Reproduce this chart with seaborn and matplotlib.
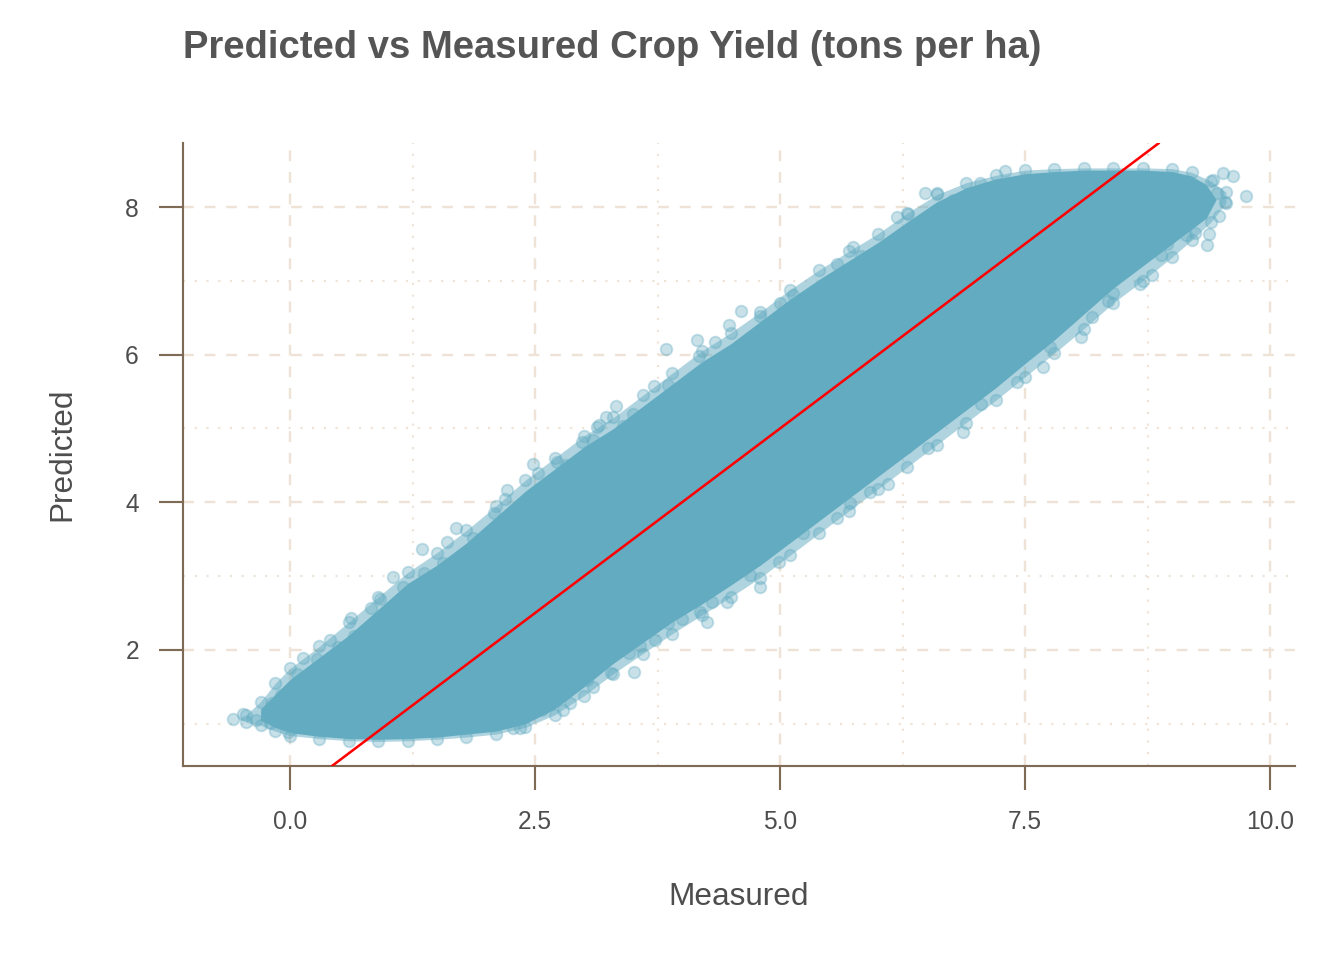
import numpy as np
import pandas as pd
import matplotlib
matplotlib.use("Agg")
import matplotlib.pyplot as plt
import seaborn as sns

# ---- data ----
# solid core of the cloud: envelope (x, lower, upper)
core_x = [-0.3, -0.15, 0.0, 0.3, 0.6, 0.9, 1.2, 1.5, 1.8, 2.1, 2.4, 2.7, 3.0, 3.3, 3.6,
          3.9, 4.2, 4.5, 4.8, 5.1, 5.4, 5.7, 6.0, 6.3, 6.6, 6.9, 7.2, 7.5, 7.8, 8.1,
          8.4, 8.7, 9.0, 9.2, 9.35, 9.45]
core_upper = [1.2, 1.4, 1.6, 1.9, 2.2, 2.55, 2.9, 3.15, 3.45, 3.8, 4.15, 4.45, 4.75,
              5.0, 5.3, 5.6, 5.9, 6.15, 6.45, 6.75, 7.02, 7.27, 7.52, 7.8, 8.07, 8.26,
              8.38, 8.45, 8.48, 8.5, 8.5, 8.5, 8.48, 8.42, 8.3, 8.1]
core_lower = [1.05, 0.95, 0.88, 0.83, 0.8, 0.79, 0.8, 0.82, 0.86, 0.9, 1.0, 1.2, 1.5,
              1.82, 2.1, 2.38, 2.62, 2.88, 3.15, 3.45, 3.75, 4.05, 4.35, 4.65, 4.95,
              5.25, 5.55, 5.88, 6.2, 6.55, 6.9, 7.2, 7.5, 7.7, 7.85, 8.1]

# lighter, semi-dense fringe zone around the core
light_x = [-0.45, -0.3, -0.15, 0.0, 0.3, 0.6, 0.9, 1.2, 1.5, 1.8, 2.1, 2.4, 2.7, 3.0,
           3.3, 3.6, 3.9, 4.2, 4.5, 4.8, 5.1, 5.4, 5.7, 6.0, 6.3, 6.6, 6.9, 7.2, 7.5,
           7.8, 8.1, 8.4, 8.7, 9.0, 9.2, 9.4, 9.55]
light_upper = [1.12, 1.3, 1.55, 1.75, 2.05, 2.38, 2.72, 3.05, 3.32, 3.62, 3.95, 4.3, 4.6,
               4.9, 5.15, 5.45, 5.75, 6.05, 6.3, 6.58, 6.88, 7.15, 7.4, 7.64, 7.92, 8.17,
               8.33, 8.43, 8.5, 8.52, 8.53, 8.53, 8.53, 8.52, 8.47, 8.35, 8.2]
light_lower = [1.02, 0.98, 0.9, 0.84, 0.8, 0.77, 0.76, 0.77, 0.79, 0.82, 0.86, 0.95, 1.12,
               1.38, 1.68, 1.95, 2.22, 2.47, 2.72, 2.98, 3.28, 3.58, 3.88, 4.18, 4.48,
               4.78, 5.08, 5.38, 5.7, 6.02, 6.35, 6.7, 7.0, 7.32, 7.55, 7.8, 8.05]

# individual points at the fringe of the cloud
fringe_measured = [-0.58, -0.48, -0.35, -0.2, -0.18, -0.09, 0.07, 0.13, 0.28, 0.37, 0.41,
                   0.49, 0.62, 0.65, 0.77, 0.83, 0.92, 1.05, 1.15, 1.35, 1.37, 1.56, 1.6,
                   1.69, 1.87, 2.08, 2.21, 2.19, 2.48, 2.53, 2.72, 2.82, 2.98, 3.09, 3.13,
                   3.15, 3.22, 3.33, 3.4, 3.5, 3.71, 3.84, 3.86, 4.15, 4.17, 4.34, 4.48,
                   4.6, 4.8, 5.0, 5.13, 5.58, 5.74, 5.83, 6.05, 6.19, 6.31, 6.48, 6.6,
                   6.77, 7.04, 7.3, 9.52, 9.62, 9.76, 9.48, 9.36, 9.38, 9.46, 9.54, 9.31,
                   9.42, 9.29, 9.23, 9.14, 8.95,
                   -0.02, 2.28, 2.35, 2.57, 2.79, 2.86, 2.62, 3.03, 3.09, 3.28, 3.51,
                   3.46, 3.57, 3.72, 3.86, 4.0, 4.26, 4.18, 4.31, 4.46, 4.8, 4.69, 4.99,
                   5.23, 5.58, 5.71, 5.92, 6.1, 6.3, 6.51, 6.87, 7.05, 7.42, 7.68, 7.76,
                   8.07, 8.18, 8.35, 8.4, 8.67, 8.8, 8.89]
fringe_predicted = [1.07, 1.13, 1.05, 1.01, 1.28, 1.39, 1.67, 1.89, 1.88, 1.8, 2.14,
                    2.04, 2.43, 2.19, 2.27, 2.57, 2.69, 2.99, 2.85, 3.37, 3.04, 3.18, 3.46,
                    3.65, 3.52, 3.86, 4.17, 4.05, 4.52, 4.4, 4.55, 4.51, 4.82, 4.85, 5.02,
                    5.05, 5.16, 5.31, 5.04, 5.19, 5.58, 6.07, 5.59, 6.2, 5.98, 6.17, 6.4,
                    6.59, 6.52, 6.7, 6.81, 7.23, 7.46, 7.34, 7.43, 7.87, 7.9, 8.19, 8.19,
                    8.09, 8.32, 8.49, 8.46, 8.42, 8.15, 7.88, 7.49, 7.64, 8.19, 8.07, 7.97,
                    8.37, 8.26, 7.65, 7.62, 7.5,
                    0.89, 0.94, 0.94, 1.19, 1.19, 1.28, 1.35, 1.59, 1.5, 1.69, 1.7,
                    1.96, 2.05, 2.14, 2.37, 2.42, 2.38, 2.51, 2.65, 2.65, 2.85, 3.02, 3.19,
                    3.58, 3.79, 3.99, 4.14, 4.25, 4.75, 4.74, 4.95, 5.33, 5.63, 5.83, 6.11,
                    6.24, 6.51, 6.72, 6.84, 6.96, 7.08, 7.35]

ref_intercept = 0.0
ref_slope = 1.0

x_ticks = [0.0, 2.5, 5.0, 7.5, 10.0]
x_tick_labels = ["0.0", "2.5", "5.0", "7.5", "10.0"]
y_ticks = [2, 4, 6, 8]
y_tick_labels = ["2", "4", "6", "8"]

# ---- styling ----
sns.set_theme(style="white")
plt.rcParams["font.family"] = ["Liberation Sans", "DejaVu Sans"]

PT = "#62abc1"
SPINE = "#7e6a55"
GRID = "#efe2d6"
TXT = "#4d4d4d"

fig = plt.figure(figsize=(7, 5), dpi=192)
ax = fig.add_axes([183 / 1344, 1 - 766 / 960, (1295 - 183) / 1344, (766 - 143) / 960])

ax.fill_between(light_x, light_lower, light_upper, color=PT, alpha=0.5, lw=0, zorder=2)
ax.fill_between(core_x, core_lower, core_upper, color=PT, lw=0, zorder=2)

edge = pd.DataFrame({"Measured": list(light_x) + list(light_x),
                     "Predicted": list(light_upper) + list(light_lower)})
fringe = pd.DataFrame({"Measured": fringe_measured, "Predicted": fringe_predicted})
sns.scatterplot(data=edge, x="Measured", y="Predicted", ax=ax, s=19, color=PT,
                alpha=0.35, edgecolor=PT, linewidth=0.7, zorder=3, legend=False)
sns.scatterplot(data=fringe, x="Measured", y="Predicted", ax=ax, s=19, color=PT,
                alpha=0.35, edgecolor=PT, linewidth=0.7, zorder=3, legend=False)

ax.axline((0, ref_intercept), slope=ref_slope, color="red", lw=0.95, zorder=4)

ax.set_xlim(-1.092, 10.255)
ax.set_ylim(0.428, 8.867)
ax.set_xticks(x_ticks)
ax.set_xticklabels(x_tick_labels)
ax.set_yticks(y_ticks)
ax.set_yticklabels(y_tick_labels)
ax.set_xticks([1.25, 3.75, 6.25, 8.75], minor=True)
ax.set_yticks([1, 3, 5, 7], minor=True)

ax.grid(True, which="major", color=GRID, lw=0.9, ls=(0, (4.5, 4.5)), zorder=0)
ax.grid(True, which="minor", color=GRID, lw=0.8, ls=(0, (1, 4.5)), zorder=0)
ax.set_axisbelow(True)

for s in ["top", "right"]:
    ax.spines[s].set_visible(False)
for s in ["left", "bottom"]:
    ax.spines[s].set_color(SPINE)
    ax.spines[s].set_linewidth(0.8)

ax.tick_params(axis="both", which="major", length=9, width=0.8, color=SPINE,
               labelsize=9.2, labelcolor=TXT, pad=7.5, direction="out")
ax.tick_params(axis="both", which="minor", length=0)
ax.tick_params(axis="x", bottom=True)
ax.tick_params(axis="y", left=True)

ax.set_xlabel("Measured", fontsize=11.8, color=TXT, labelpad=18)
ax.set_ylabel("Predicted", fontsize=11.8, color=TXT, labelpad=18)

fig.text(183 / 1344, 1 - 58 / 960, "Predicted vs Measured Crop Yield (tons per ha)",
         fontsize=14.35, fontweight="bold", color="#555555", ha="left", va="baseline")

fig.savefig("out.png", dpi=192)
